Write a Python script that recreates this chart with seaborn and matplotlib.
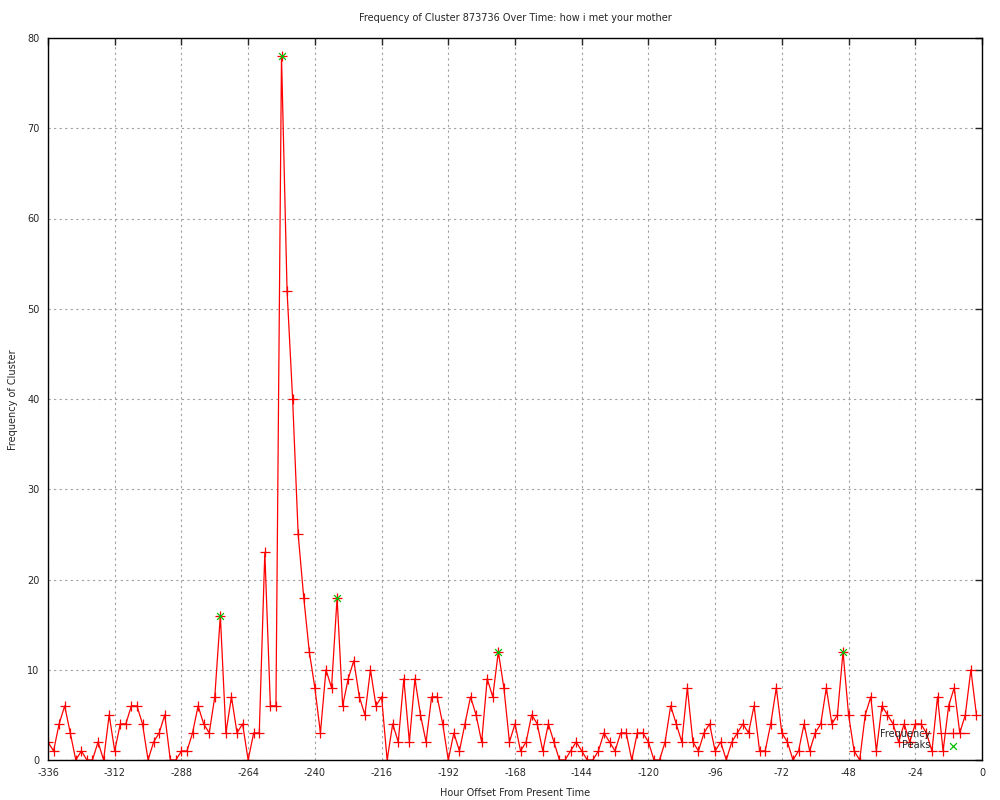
import matplotlib
matplotlib.use("Agg")
import matplotlib.pyplot as plt
import pandas as pd
import seaborn as sns

# ── DATA ─────────────────────────────────────────────────────────────────────
# hourly samples every 2 hours
hours = list(range(-336, 0, 2))
frequency = [
    2, 1, 4, 6, 3, 0, 1, 0, 0, 2, 0, 5, 1, 4, 4, 6, 6, 4, 0, 2,      # -336 .. -298
    3, 5, 0, 0, 1, 1, 3, 6, 4, 3, 7, 16, 3, 7, 3, 4, 0, 3, 3, 23,    # -296 .. -258
    6, 6, 78, 52, 40, 25, 18, 12, 8, 3, 10, 8, 18, 6, 9, 11, 7, 5, 10, 6,  # -256 .. -218
    7, 0, 4, 2, 9, 2, 9, 5, 2, 7, 7, 4, 0, 3, 1, 4, 7, 5, 2, 9,      # -216 .. -178
    7, 12, 8, 2, 4, 1, 2, 5, 4, 1, 4, 2, 0, 0, 1, 2, 1, 0, 0, 1,     # -176 .. -138
    3, 2, 1, 3, 3, 0, 3, 3, 2, 0, 0, 2, 6, 4, 2, 8, 2, 1, 3, 4,      # -136 .. -98
    1, 2, 0, 2, 3, 4, 3, 6, 1, 1, 4, 8, 3, 2, 0, 1, 4, 1, 3, 4,      # -96 .. -58
    8, 4, 5, 12, 5, 1, 0, 5, 7, 1, 6, 5, 4, 2, 4, 2, 4, 4, 3, 1,     # -56 .. -18
    7, 1, 6, 8, 3, 5, 10, 5,                                          # -16 .. -2
]
peak_hours = [-274, -252, -232, -174, -50]
peak_values = [16, 78, 18, 12, 12]

x_ticks = list(range(-336, 1, 24))
y_ticks = list(range(0, 81, 10))

df = pd.DataFrame({"hour": hours, "freq": frequency})
peaks = pd.DataFrame({"hour": peak_hours, "freq": peak_values})

# ── PLOT ─────────────────────────────────────────────────────────────────────
sns.set_style("white")
plt.rcParams["font.family"] = ["DejaVu Sans"]
plt.rcParams["axes.unicode_minus"] = False   # plain hyphen like gnuplot

fig = plt.figure(figsize=(10, 8), dpi=100)
ax = fig.add_axes([0.048, 0.05, 0.934, 0.9025])

sns.lineplot(data=df, x="hour", y="freq", ax=ax, color="#ff0000",
             linewidth=0.9, marker="+", markersize=7, markeredgewidth=0.9,
             markeredgecolor="#ff0000", label="Frequency")
sns.scatterplot(data=peaks, x="hour", y="freq", ax=ax, color="#00c000",
                marker="x", s=24, linewidth=0.9, label="Peaks", zorder=4)

ax.set_xlim(-336, 0)
ax.set_ylim(0, 80)
ax.set_xticks(x_ticks)
ax.set_yticks(y_ticks)
ax.set_xlabel("")
ax.set_ylabel("")
ax.grid(True, color="#a0a0a0", linestyle=(0, (2, 3)), linewidth=0.8)
ax.tick_params(direction="in", length=5, width=1, top=True, right=True,
               labelsize=7, pad=6)
for s in ax.spines.values():
    s.set_color("black")
    s.set_linewidth(1)

fig.text(0.515, 1 - 18 / 800, "Frequency of Cluster 873736 Over Time: how i met your mother",
         ha="center", va="center", fontsize=7)
fig.text(0.515, 1 - 793 / 800, "Hour Offset From Present Time",
         ha="center", va="center", fontsize=7)
fig.text(0.013, 0.5, "Frequency of Cluster", rotation=90,
         ha="center", va="center", fontsize=7)

ax.legend(loc="lower right", bbox_to_anchor=(0.99, 0.008), frameon=False,
          markerfirst=False, fontsize=7, handlelength=3.3, labelspacing=0.15,
          borderaxespad=0, handletextpad=0.6)

fig.savefig("out.png", dpi=100)
